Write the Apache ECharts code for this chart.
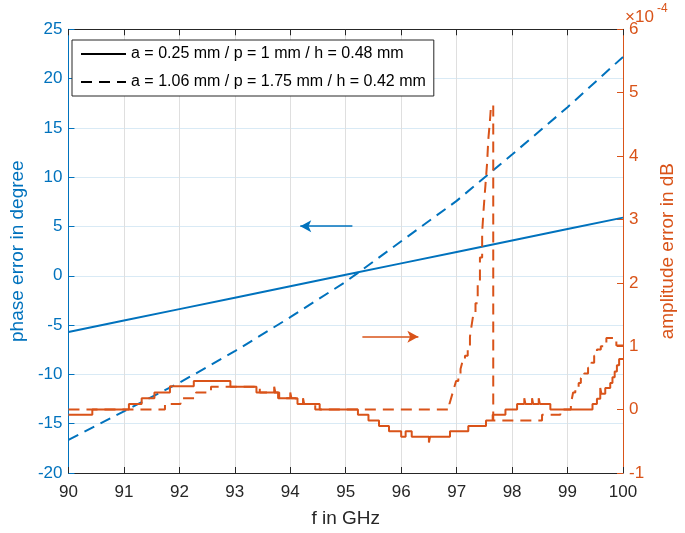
<!DOCTYPE html>
<html>
<head>
<meta charset="utf-8">
<script src="https://cdn.jsdelivr.net/npm/echarts@6/dist/echarts.min.js"></script>
<style>
html,body{margin:0;padding:0;background:#fff;}
#chart{width:685px;height:533px;}
</style>
</head>
<body>
<div id="chart"></div>
<script>
// ---- data ----
const legendNames = ['a = 0.25 mm / p = 1 mm / h = 0.48 mm', 'a = 1.06 mm / p = 1.75 mm / h = 0.42 mm'];
const xLabel = 'f in GHz';
const yLeftLabel = 'phase error in degree';
const yRightLabel = 'amplitude error in dB';

const phaseFreq = [90, 91, 92, 93, 94, 95, 96, 97, 98, 99, 100];
const phaseSolid = [-5.7, -4.54, -3.38, -2.22, -1.06, 0.1, 1.26, 2.42, 3.58, 4.74, 5.9];
const phaseDashed = [-16.65, -13.75, -10.85, -7.65, -4.2, -0.6, 3.5, 7.6, 12.3, 17.1, 22.2];

// amplitude error (x1e-4 dB), step change points: value holds from f until next f
const ampSolidF = [90.00, 90.43, 91.09, 91.32, 91.55, 91.83, 92.26, 92.92, 93.39, 93.71, 93.73, 93.78, 94.00, 94.02, 94.13, 94.23, 94.25, 94.53,
  95.22, 95.41, 95.60, 95.78, 96.00, 96.08, 96.19, 96.50, 96.52, 96.88, 97.21, 97.53, 97.65, 97.88, 98.09, 98.22, 98.24, 98.36, 98.38, 98.48, 98.50, 98.69,
  99.45, 99.53, 99.59, 99.61, 99.68, 99.77, 99.81, 99.85, 99.89, 99.93, 100.0];
const ampSolidV = [-0.08, 0, 0.09, 0.18, 0.27, 0.37, 0.45, 0.36, 0.27, 0.36, 0.27, 0.18, 0.27, 0.18, 0.09, 0.18, 0.09, 0,
  -0.08, -0.17, -0.26, -0.34, -0.43, -0.34, -0.43, -0.52, -0.43, -0.34, -0.26, -0.17, -0.08, 0, 0.09, 0.18, 0.09, 0.18, 0.09, 0.18, 0.09, 0,
  0.09, 0.17, 0.34, 0.25, 0.34, 0.42, 0.51, 0.6, 0.7, 0.8, 0.8];

const ampDashF = [90.00, 91.74, 92.02, 92.30, 92.57, 93.45, 93.80, 94.10, 94.45,
  96.87, 96.90, 96.93, 96.96, 96.99, 97.03, 97.07, 97.10, 97.15, 97.20, 97.24, 97.27, 97.30, 97.34, 97.38, 97.42, 97.46, 97.49, 97.52, 97.55, 97.57, 97.60, 97.62,
  97.66, 98.54, 98.87, 99.06, 99.08, 99.10, 99.14, 99.20, 99.24, 99.30, 99.37, 99.43, 99.48, 99.53, 99.60, 99.70, 99.88, 100.0];
const ampDashV = [0, 0.09, 0.18, 0.27, 0.36, 0.27, 0.18, 0.09, 0,
  0.09, 0.18, 0.27, 0.36, 0.45, 0.55, 0.64, 0.74, 0.85, 1.0, 1.15, 1.33, 1.5, 1.68, 2.0, 2.4, 2.8, 3.2, 3.55, 3.9, 4.25, 4.55, 4.8,
  -0.17, -0.08, 0, 0.09, 0.18, 0.27, 0.32, 0.42, 0.5, 0.57, 0.66, 0.74, 0.85, 0.95, 1.0, 1.13, 1.01, 1.01];

// annotation arrows (data coordinates)
const blueArrow = {from: [95.12, 5.03], to: [94.18, 5.03]};
const orangeArrow = {from: [95.30, 1.15], to: [96.31, 1.15]};

const BLUE = '#0072bd', ORANGE = '#d95319', DARK = '#262626';
const FONT = 'Liberation Sans, Arial, Helvetica, sans-serif';
const DASH = [11, 7];

const zip = (a, b) => a.map((v, i) => [v, b[i]]);

const chart = echarts.init(document.getElementById('chart'), null, {renderer: 'canvas'});
chart.setOption({
  animation: false,
  backgroundColor: '#fff',
  textStyle: {fontFamily: FONT},
  grid: {left: 58.4, right: 53.3, top: 29.3, bottom: 53.7, containLabel: false},
  legend: {
    data: legendNames,
    orient: 'vertical', left: 72, top: 40,
    padding: [6, 8, 6, 8], itemGap: 12, itemWidth: 45, itemHeight: 14,
    backgroundColor: '#fff', borderColor: DARK, borderWidth: 1,
    itemStyle: {opacity: 0},
    textStyle: {fontSize: 16, color: '#000', fontFamily: FONT},
    selectedMode: false
  },
  xAxis: [{
    type: 'value', min: 90, max: 100, interval: 1, position: 'bottom',
    name: xLabel, nameLocation: 'middle', nameGap: 36,
    nameTextStyle: {fontSize: 19, color: DARK, fontFamily: FONT},
    axisLine: {onZero: false, lineStyle: {color: DARK, width: 1}},
    axisTick: {inside: true, length: 6, lineStyle: {color: DARK}},
    axisLabel: {fontSize: 17, color: DARK, margin: 11, fontFamily: FONT},
    splitLine: {show: true, lineStyle: {color: '#dfdfdf', width: 1}}
  }, {
    type: 'value', min: 90, max: 100, interval: 1, position: 'top',
    axisLine: {onZero: false, lineStyle: {color: DARK, width: 1}},
    axisTick: {inside: true, length: 6, lineStyle: {color: DARK}},
    axisLabel: {show: false}, splitLine: {show: false}
  }],
  yAxis: [{
    type: 'value', min: -20, max: 25, interval: 5, position: 'left',
    name: yLeftLabel, nameLocation: 'middle', nameRotate: 90, nameGap: 39,
    nameTextStyle: {fontSize: 19, color: BLUE, fontFamily: FONT},
    axisLine: {show: true, onZero: false, lineStyle: {color: BLUE, width: 1}},
    axisTick: {show: true, inside: true, length: 6, lineStyle: {color: BLUE}},
    axisLabel: {fontSize: 17, color: BLUE, margin: 6, fontFamily: FONT},
    splitLine: {show: true, lineStyle: {color: '#d9eaf5', width: 1}}
  }, {
    type: 'value', min: -1, max: 6, interval: 1, position: 'right',
    name: yRightLabel, nameLocation: 'middle', nameRotate: 90, nameGap: 35,
    nameTextStyle: {fontSize: 19, color: ORANGE, fontFamily: FONT},
    axisLine: {show: true, onZero: false, lineStyle: {color: ORANGE, width: 1}},
    axisTick: {show: true, inside: true, length: 6, lineStyle: {color: ORANGE}},
    axisLabel: {fontSize: 17, color: ORANGE, margin: 6, fontFamily: FONT},
    splitLine: {show: false}
  }],
  graphic: [
    {type: 'text', left: 625, top: 9, style: {text: '×10', fontSize: 17, fill: ORANGE, fontFamily: FONT}},
    {type: 'text', left: 657, top: 3, style: {text: '-4', fontSize: 12, fill: ORANGE, fontFamily: FONT}}
  ],
  series: [
    {name: legendNames[0], type: 'line', data: [], symbol: 'none', symbolSize: 0, color: '#000',
      lineStyle: {color: '#000', width: 1.3, type: 'solid'}},
    {name: legendNames[1], type: 'line', data: [], symbol: 'none', symbolSize: 0, color: '#000',
      lineStyle: {color: '#000', width: 1.8, type: DASH}},
    {name: 'phaseSolid', type: 'line', xAxisIndex: 0, yAxisIndex: 0, data: zip(phaseFreq, phaseSolid),
      symbol: 'none', lineStyle: {color: BLUE, width: 2, type: 'solid'}, color: BLUE,
      markLine: {silent: true, symbol: ['none', 'arrow'], symbolSize: [9, 11], label: {show: false},
        lineStyle: {color: BLUE, width: 1.5, type: 'solid'},
        data: [[{coord: blueArrow.from}, {coord: blueArrow.to}]]}},
    {name: 'phaseDashed', type: 'line', xAxisIndex: 0, yAxisIndex: 0, data: zip(phaseFreq, phaseDashed),
      symbol: 'none', lineStyle: {color: BLUE, width: 2, type: DASH}, color: BLUE},
    {name: 'ampSolid', type: 'line', xAxisIndex: 0, yAxisIndex: 1, data: zip(ampSolidF, ampSolidV), step: 'end',
      symbol: 'none', lineStyle: {color: ORANGE, width: 2, type: 'solid'}, color: ORANGE,
      markLine: {silent: true, symbol: ['none', 'arrow'], symbolSize: [9, 11], label: {show: false},
        lineStyle: {color: ORANGE, width: 1.5, type: 'solid'},
        data: [[{coord: orangeArrow.from}, {coord: orangeArrow.to}]]}},
    {name: 'ampDashed', type: 'line', xAxisIndex: 0, yAxisIndex: 1, data: zip(ampDashF, ampDashV), step: 'end',
      symbol: 'none', lineStyle: {color: ORANGE, width: 2, type: DASH}, color: ORANGE}
  ]
});
</script>
</body>
</html>
